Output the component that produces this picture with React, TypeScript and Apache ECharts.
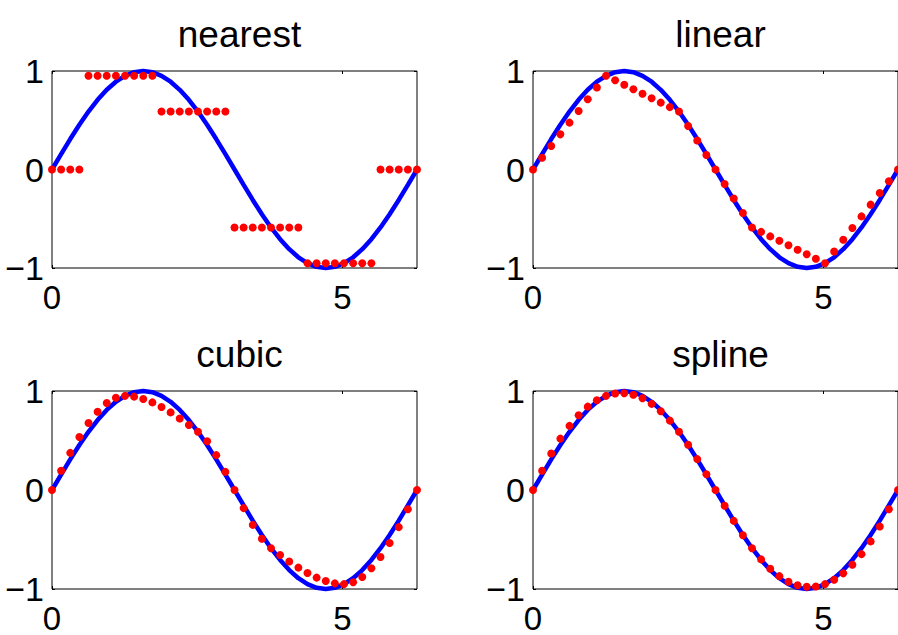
import React, { useEffect, useRef } from "react";
import * as echarts from "echarts";

// Sample points xi = 0 .. 2π (41 points)
const xi = [
  0, 0.157, 0.314, 0.471, 0.628, 0.785, 0.942, 1.1, 1.257, 1.414, 1.571, 1.728, 1.885, 2.042,
  2.199, 2.356, 2.513, 2.67, 2.827, 2.985, 3.142, 3.299, 3.456, 3.613, 3.77, 3.927, 4.084,
  4.241, 4.398, 4.555, 4.712, 4.869, 5.027, 5.184, 5.341, 5.498, 5.655, 5.812, 5.969, 6.126,
  6.283,
];

// True curve (blue)
const trueY = [
  0, 0.156, 0.309, 0.454, 0.588, 0.707, 0.809, 0.891, 0.951, 0.988, 1, 0.988, 0.951, 0.891,
  0.809, 0.707, 0.588, 0.454, 0.309, 0.156, 0, -0.156, -0.309, -0.454, -0.588, -0.707, -0.809,
  -0.891, -0.951, -0.988, -1, -0.988, -0.951, -0.891, -0.809, -0.707, -0.588, -0.454, -0.309,
  -0.156, 0,
];

const nearestY = [
  0, 0, 0, 0, 0.951, 0.951, 0.951, 0.951, 0.951, 0.951, 0.951, 0.951, 0.588, 0.588, 0.588,
  0.588, 0.588, 0.588, 0.588, 0.588, -0.588, -0.588, -0.588, -0.588, -0.588, -0.588, -0.588,
  -0.588, -0.951, -0.951, -0.951, -0.951, -0.951, -0.951, -0.951, -0.951, 0, 0, 0, 0, 0,
];

const linearY = [
  0, 0.119, 0.238, 0.357, 0.476, 0.594, 0.713, 0.832, 0.951, 0.906, 0.86, 0.815, 0.769, 0.724,
  0.679, 0.633, 0.588, 0.441, 0.294, 0.147, 0, -0.147, -0.294, -0.441, -0.588, -0.633, -0.679,
  -0.724, -0.769, -0.815, -0.86, -0.906, -0.951, -0.832, -0.713, -0.594, -0.476, -0.357,
  -0.238, -0.119, 0,
];

const cubicY = [
  0, 0.195, 0.375, 0.536, 0.677, 0.791, 0.878, 0.932, 0.951, 0.943, 0.92, 0.885, 0.839, 0.784,
  0.723, 0.657, 0.588, 0.492, 0.352, 0.183, 0, -0.183, -0.352, -0.492, -0.588, -0.657, -0.723,
  -0.784, -0.839, -0.885, -0.92, -0.943, -0.951, -0.932, -0.878, -0.791, -0.677, -0.536,
  -0.375, -0.195, 0,
];

const splineY = [
  0, 0.195, 0.368, 0.519, 0.648, 0.755, 0.842, 0.907, 0.951, 0.975, 0.978, 0.962, 0.926, 0.87,
  0.795, 0.701, 0.588, 0.457, 0.312, 0.159, 0, -0.159, -0.312, -0.457, -0.588, -0.701, -0.795,
  -0.87, -0.926, -0.962, -0.978, -0.975, -0.951, -0.907, -0.842, -0.755, -0.648, -0.519,
  -0.368, -0.195, 0,
];

const titles = ["nearest", "linear", "cubic", "spline"];
const interpSeries = [nearestY, linearY, cubicY, splineY];
const xTicks = [0, 5];
const yTicks = [-1, 0, 1];
const X_MAX = 6.2832;

const FONT = "Liberation Sans, Arial, Helvetica, sans-serif";

export default function App() {
  const ref = useRef<HTMLDivElement>(null);

  useEffect(() => {
    if (!ref.current) return;
    const chart = echarts.init(ref.current, null, { renderer: "svg" });

    const layout = [
      { left: 52, top: 71, height: 197 },
      { left: 533, top: 71, height: 197 },
      { left: 52, top: 391, height: 198 },
      { left: 533, top: 391, height: 198 },
    ];
    const gridW = 365;

    const grids = layout.map((l) => ({
      left: l.left,
      top: l.top,
      width: gridW,
      height: l.height,
      show: true,
      borderColor: "#000",
      borderWidth: 1,
      backgroundColor: "transparent",
      containLabel: false,
    }));

    const titleOpts = layout.map((l, i) => ({
      text: titles[i],
      left: l.left + gridW / 2,
      top: l.top - 60,
      textAlign: "center",
      textStyle: {
        fontFamily: FONT,
        fontSize: 37,
        fontWeight: "normal",
        color: "#000",
      },
    }));

    const fmtX = (v: number) => (xTicks.includes(v) ? String(v) : "");
    const fmtY = (v: number) =>
      yTicks.includes(v) ? (v < 0 ? "\u2212" + Math.abs(v) : String(v)) : "";

    const tick = {
      inside: true,
      length: 3,
      lineStyle: { color: "#000", width: 1 },
    };

    const xAxes: any[] = [];
    const yAxes: any[] = [];
    layout.forEach((_, i) => {
      const common = {
        type: "value",
        gridIndex: i,
        min: 0,
        max: X_MAX,
        interval: 5,
        axisLine: { show: false, onZero: false },
        splitLine: { show: false },
      };
      xAxes.push({
        ...common,
        position: "bottom",
        axisTick: { ...tick, customValues: xTicks },
        axisLabel: {
          customValues: xTicks,
          formatter: fmtX,
          fontFamily: FONT,
          fontSize: 33,
          lineHeight: 26,
          color: "#000",
          margin: 16,
        },
      });
      xAxes.push({
        ...common,
        position: "top",
        axisTick: { ...tick, customValues: xTicks },
        axisLabel: { show: false },
      });
      const ycommon = {
        type: "value",
        gridIndex: i,
        min: -1,
        max: 1,
        interval: 1,
        axisLine: { show: false, onZero: false },
        splitLine: { show: false },
      };
      yAxes.push({
        ...ycommon,
        position: "left",
        axisTick: tick,
        axisLabel: {
          formatter: fmtY,
          fontFamily: FONT,
          fontSize: 34,
          color: "#000",
          margin: 8,
        },
      });
      yAxes.push({
        ...ycommon,
        position: "right",
        axisTick: tick,
        axisLabel: { show: false },
      });
    });

    const series: any[] = [];
    layout.forEach((_, i) => {
      series.push({
        type: "line",
        xAxisIndex: 2 * i,
        yAxisIndex: 2 * i,
        data: xi.map((x, k) => [x, trueY[k]]),
        symbol: "none",
        showSymbol: false,
        clip: false,
        lineStyle: { color: "#0000ff", width: 4.5 },
        z: 2,
      });
      series.push({
        type: "scatter",
        xAxisIndex: 2 * i,
        yAxisIndex: 2 * i,
        data: xi.map((x, k) => [x, interpSeries[i][k]]),
        symbol: "circle",
        symbolSize: 8,
        clip: false,
        itemStyle: { color: "#ff0000", opacity: 1 },
        z: 3,
      });
    });

    chart.setOption({
      animation: false,
      backgroundColor: "#fff",
      title: titleOpts,
      grid: grids,
      xAxis: xAxes,
      yAxis: yAxes,
      series,
    });

    return () => chart.dispose();
  }, []);

  return (
    <div
      ref={ref}
      style={{ position: "absolute", left: 0, top: 0, width: 898, height: 635 }}
    />
  );
}
